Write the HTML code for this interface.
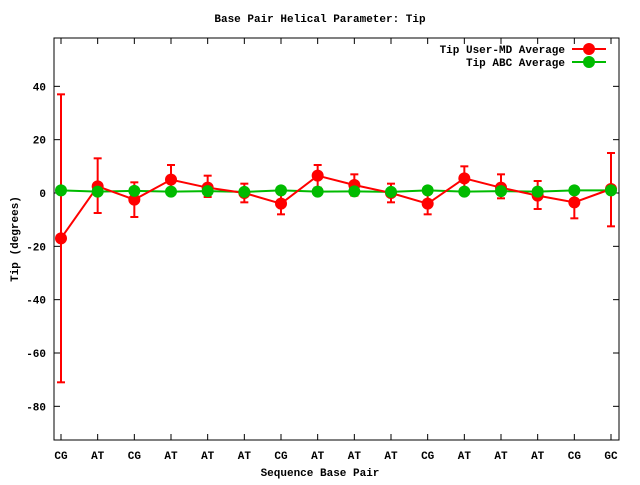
<!DOCTYPE html>
<html><head><meta charset="utf-8"><style>
body{margin:0;background:#fff}
svg text{font-family:"Liberation Mono",monospace;font-weight:bold;font-size:11px;fill:#000}
</style></head><body>
<svg id="c" width="640" height="480" xmlns="http://www.w3.org/2000/svg">
<text x="320" y="22" text-anchor="middle">Base Pair Helical Parameter: Tip</text>
<text x="320" y="476" text-anchor="middle">Sequence Base Pair</text>
<text transform="translate(18,239) rotate(-90)" text-anchor="middle">Tip (degrees)</text>
<g id="ax"></g><g id="marks"></g>
<g>
<text x="565" y="53" text-anchor="end">Tip User-MD Average</text>
<line x1="572" y1="49" x2="606" y2="49" stroke="#f00" stroke-width="2"/>
<circle cx="589" cy="49" r="6" fill="#f00"/>
<text x="565" y="66" text-anchor="end">Tip ABC Average</text>
<line x1="572" y1="62" x2="606" y2="62" stroke="#0b0" stroke-width="2"/>
<circle cx="589" cy="62" r="6" fill="#0b0"/>
</g>
</svg>
<script>
const categories=["CG","AT","CG","AT","AT","AT","CG","AT","AT","AT","CG","AT","AT","AT","CG","GC"];
const userMd=[-17,2.5,-2.5,5,2,0,-4,6.5,3,0,-4,5.5,2,-1,-3.5,1.5];
const userLow=[-71,-7.5,-9,-0.5,-1.5,-3.5,-8,2,-1,-3.5,-8,1,-2,-6,-9.5,-12.5];
const userHigh=[37,13,4,10.5,6.5,3.5,0,10.5,7,3.5,0,10,7,4.5,2,15];
const abc=[1,0.5,0.8,0.5,0.7,0.4,1,0.5,0.6,0.4,1,0.5,0.7,0.5,1,1];
const yTicks=[-80,-60,-40,-20,0,20,40];
const L=54,R=619,T=38,B=440;
const X=i=>61+i*(611-61)/(categories.length-1);
const Y=v=>193-v*(53.33/20);
const NS="http://www.w3.org/2000/svg";
function mk(p,t,a){const e=document.createElementNS(NS,t);for(const k in a)e.setAttribute(k,a[k]);p.appendChild(e);return e;}
const ax=document.getElementById('ax'),mg=document.getElementById('marks');
const fr=mk(ax,'rect',{x:L,y:T,width:R-L,height:B-T,fill:'none',stroke:'#000','stroke-width':1});


yTicks.forEach(v=>{
 mk(ax,'line',{x1:L,y1:Y(v),x2:L+6,y2:Y(v),stroke:'#000'});
 mk(ax,'line',{x1:R,y1:Y(v),x2:R-6,y2:Y(v),stroke:'#000'});
 const t=mk(ax,'text',{x:L-8,y:Y(v)+4,'text-anchor':'end'});t.textContent=v;
 
 
});
categories.forEach((c,i)=>{
 mk(ax,'line',{x1:X(i),y1:B,x2:X(i),y2:B-6,stroke:'#000'});
 mk(ax,'line',{x1:X(i),y1:T,x2:X(i),y2:T+6,stroke:'#000'});
 const t=mk(ax,'text',{x:X(i),y:B+19,'text-anchor':'middle'});t.textContent=c;
 
 
});
function series(vals,col,name){
 const pl=mk(mg,'polyline',{points:vals.map((v,i)=>X(i)+','+Y(v)).join(' '),fill:'none',stroke:col,'stroke-width':2});
 
 
}
series(abc,'#0b0','abc');
userMd.forEach((v,i)=>{
 const g=mk(mg,'g',{});
 
 
 mk(g,'line',{x1:X(i),y1:Y(userLow[i]),x2:X(i),y2:Y(userHigh[i]),stroke:'#f00','stroke-width':2});
 mk(g,'line',{x1:X(i)-4,y1:Y(userLow[i]),x2:X(i)+4,y2:Y(userLow[i]),stroke:'#f00','stroke-width':2});
 mk(g,'line',{x1:X(i)-4,y1:Y(userHigh[i]),x2:X(i)+4,y2:Y(userHigh[i]),stroke:'#f00','stroke-width':2});
});
series(userMd,'#f00','user-md');
userMd.forEach((v,i)=>{const c=mk(mg,'circle',{cx:X(i),cy:Y(v),r:6,fill:'#f00'});
 
 });
abc.forEach((v,i)=>{const c=mk(mg,'circle',{cx:X(i),cy:Y(v),r:6,fill:'#0b0'});
 
 });
</script>
</body></html>
